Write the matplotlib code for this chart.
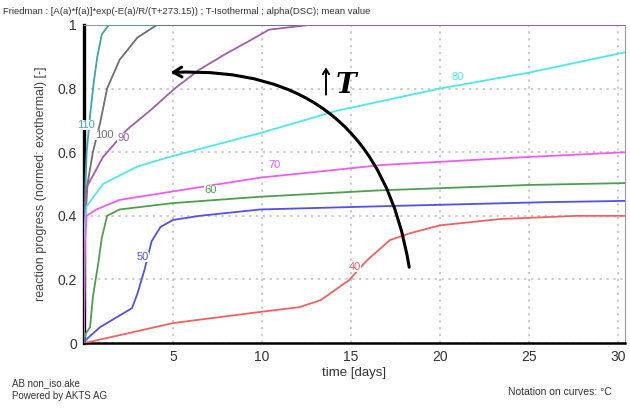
import numpy as np
import matplotlib.pyplot as plt

plt.rcParams['font.family'] = ['Liberation Sans', 'DejaVu Sans']

# curve data (time in days, progress)
t110 = [0, 0.03, 0.08, 0.15, 0.35, 0.55, 0.75, 1.0, 1.4, 30.5]
a110 = [0, 0.3, 0.5, 0.6, 0.72, 0.82, 0.9, 0.97, 1.0, 1.0]

t100 = [0, 0.03, 0.2, 0.5, 0.9, 1.3, 2.0, 3.0, 4.1, 30.5]
a100 = [0, 0.35, 0.5, 0.6, 0.69, 0.8, 0.89, 0.96, 1.0, 1.0]

t90 = [0, 0.03, 0.15, 1.07, 2.4, 3.7, 5.1, 6.5, 8.0, 9.3, 10.4, 12.7, 30.5]
a90 = [0, 0.4, 0.49, 0.585, 0.67, 0.73, 0.8, 0.86, 0.91, 0.95, 0.985, 1.0, 1.0]

t80 = [0, 0.03, 0.15, 1.07, 3.0, 4.8, 9.9, 14.2, 20.0, 25.0, 30.5]
a80 = [0, 0.35, 0.43, 0.5, 0.555, 0.585, 0.66, 0.73, 0.8, 0.85, 0.915]

t70 = [0, 0.03, 0.15, 0.7, 2.0, 4.8, 9.9, 16.8, 25.0, 30.5]
a70 = [0, 0.3, 0.4, 0.42, 0.45, 0.475, 0.52, 0.56, 0.585, 0.6]

t60 = [0, 0.1, 0.34, 0.5, 0.8, 1.0, 1.3, 2.0, 5.0, 9.9, 16.6, 25.0, 30.5]
a60 = [0, 0.03, 0.05, 0.145, 0.25, 0.33, 0.4, 0.42, 0.44, 0.46, 0.48, 0.497, 0.503]

t50 = [0, 0.1, 0.9, 2.7, 3.0, 3.4, 3.8, 4.3, 5.0, 6.5, 9.9, 16.6, 26.0, 30.5]
a50 = [0, 0.01, 0.05, 0.11, 0.155, 0.23, 0.32, 0.365, 0.387, 0.4, 0.42, 0.43, 0.443, 0.447]

t40 = [0, 2.4, 5.0, 9.9, 12.1, 13.3, 14.9, 15.9, 17.2, 18.3, 20.0, 23.4, 27.7, 30.5]
a40 = [0, 0.03, 0.063, 0.098, 0.113, 0.135, 0.198, 0.26, 0.324, 0.345, 0.37, 0.39, 0.4, 0.4]

curves = [
    ('110', t110, a110, '#3aa6a6', (0.1, 0.685)),
    ('100', t100, a100, '#6e6e6e', (1.15, 0.655)),
    ('90', t90, a90, '#a45cae', (2.2, 0.645)),
    ('80', t80, a80, '#4ee8ea', (21.0, 0.836)),
    ('70', t70, a70, '#f05cf0', (10.7, 0.56)),
    ('60', t60, a60, '#4f9e4f', (7.1, 0.48)),
    ('50', t50, a50, '#5050ee', (3.3, 0.27)),
    ('40', t40, a40, '#f06262', (15.2, 0.24)),
]

fig = plt.figure(figsize=(6.3, 4.08), dpi=100)
ax = fig.add_axes([0.1333, 0.159, 0.8587, 0.78])

for name, t, a, col, pos in curves:
    ax.plot(t, a, color=col, lw=1.3, zorder=3)
    ax.text(pos[0], pos[1], name, color=col, fontsize=8, ha='center', va='center',
            zorder=4, bbox=dict(facecolor='white', edgecolor='none', pad=0.1))

ax.set_xlim(0, 30.4)
ax.set_ylim(0, 1)
ax.set_xticks([5, 10, 15, 20, 25, 30])
ax.set_yticks([0, 0.2, 0.4, 0.6, 0.8, 1])
ax.set_yticklabels(['0', '0.2', '0.4', '0.6', '0.8', '1'])
ax.tick_params(length=0, labelsize=10, colors='#333333', pad=5)
ax.grid(color='#bdbdbd', linestyle=(0, (1.5, 3)), lw=1.1)

for s in ['top', 'right']:
    ax.spines[s].set_color('#999999')
ax.spines['left'].set_color('black')
ax.spines['left'].set_linewidth(2.4)
ax.spines['bottom'].set_color('black')
ax.spines['bottom'].set_linewidth(1.8)

ax.set_xlabel('time [days]', fontsize=9.5, color='#333333', labelpad=2)
ax.set_ylabel('reaction progress (normed: exothermal) [-]', fontsize=9,
              color='#444444', labelpad=8)

# curved arrow showing rising temperature
ax.annotate('', xy=(4.7, 0.85), xytext=(18.3, 0.23),
            arrowprops=dict(arrowstyle='->,head_length=0.6,head_width=0.35',
                            color='black', lw=2.2,
                            connectionstyle='arc3,rad=0.45'), zorder=5)
ax.annotate('', xy=(13.6, 0.875), xytext=(13.6, 0.772),
            arrowprops=dict(arrowstyle='->,head_length=0.35,head_width=0.22',
                            color='black', lw=1.4), zorder=5)
ax.text(14.7, 0.81, 'T', fontsize=20, family='DejaVu Serif', style='italic',
        fontweight='bold', ha='center', va='center', zorder=5)

fig.text(0.005, 0.972, 'Friedman : [A(a)*f(a)]*exp(-E(a)/R/(T+273.15)) ; T-Isothermal ; '
         'alpha(DSC); mean value', fontsize=6.8, color='#333333', va='center')
fig.text(0.019, 0.062, 'AB non_iso.ake', fontsize=7, color='#333333', va='center')
fig.text(0.019, 0.029, 'Powered by AKTS AG', fontsize=7, color='#333333', va='center')
fig.text(0.971, 0.039, 'Notation on curves: \u00b0C', fontsize=7.5, color='#333333',
         ha='right', va='center')

fig.savefig('out.png', dpi=100)
